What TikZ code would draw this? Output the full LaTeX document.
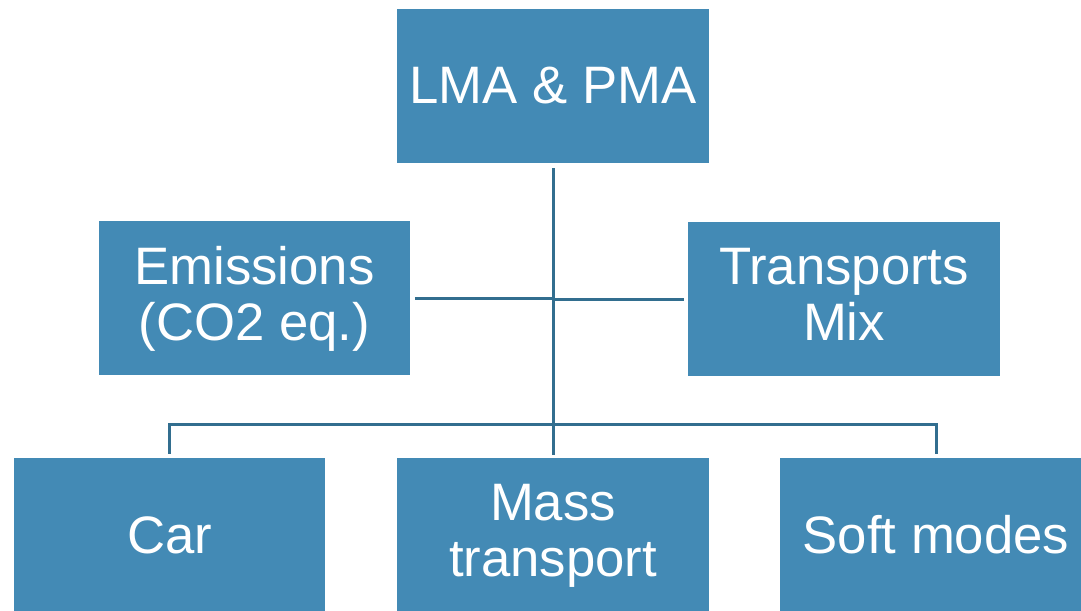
\documentclass[tikz,border=0pt]{standalone}
\usepackage{fontspec}
\setmainfont{Liberation Sans}
\usetikzlibrary{positioning}
\definecolor{boxblue}{RGB}{67,138,181}
\definecolor{linkblue}{RGB}{50,110,143}

\begin{document}
\begin{tikzpicture}[x=0.02cm, y=-0.02cm,
    block/.style={fill=boxblue, text=white, minimum width=6.24cm, minimum height=3.08cm,
      align=center, inner sep=0pt, font=\fontsize{30}{32}\selectfont},
    twolines/.style={text depth=0.2cm},
    link/.style={draw=linkblue, line width=1.7pt}]
    \useasboundingbox (0,0) rectangle (1081,610);
    % boites
    \node[block] (top)  at (553,86)  {LMA \& PMA};
    \node[block, twolines] (emis) at (254.5,298) {Emissions\\(CO2 eq.)};
    \node[block, twolines] (mix)  at (844,299) {Transports\\Mix};
    \node[block] (car)  at (169.5,535) {Car};
    \node[block, twolines] (mass) at (553,535) {Mass\\transport};
    \node[block] (soft) at (936,535) {Soft modes};

    % liens
    \coordinate (fork) at (553,424);
    \draw[link, shorten <=0.1cm, shorten >=0.06cm] (top.south) -- (mass.north);
    \draw[link, shorten <=0.08cm] (emis.east) -- (emis.east -| top.south);
    \draw[link, shorten <=0.08cm] (mix.west) -- (mix.west -| top.south);
    \draw[link, shorten <=0.08cm, shorten >=0.08cm] (car.north) |- (fork) -| (soft.north);
\end{tikzpicture}
\end{document}
